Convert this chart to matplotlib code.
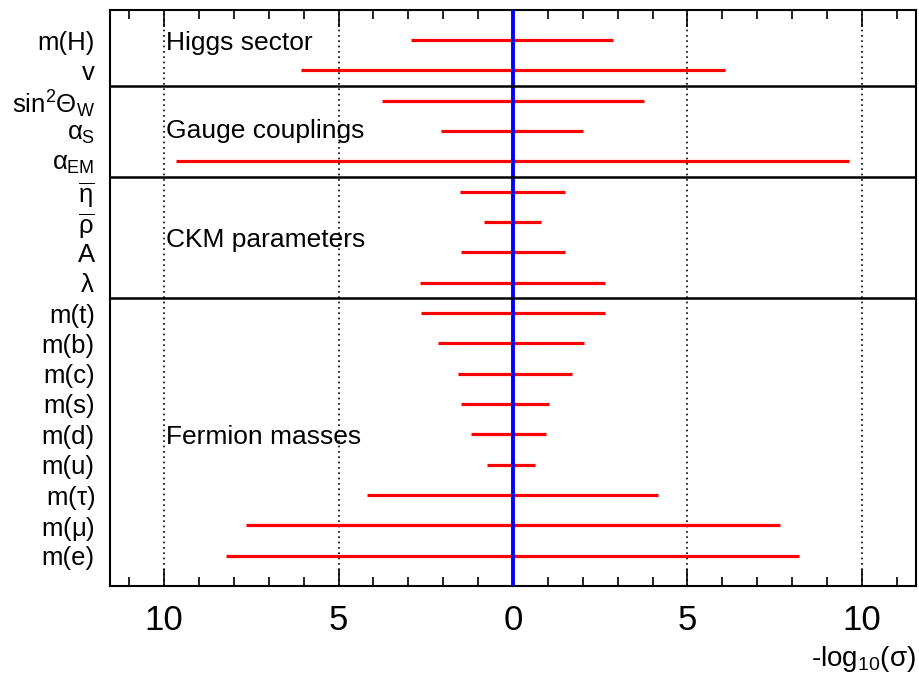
import numpy as np
import matplotlib
matplotlib.use("Agg")
import matplotlib.pyplot as plt
from matplotlib.ticker import MultipleLocator, FixedLocator
from matplotlib import font_manager

plt.rcParams['font.family'] = ['Liberation Sans', 'DejaVu Sans']
plt.rcParams['mathtext.fontset'] = 'custom'
plt.rcParams['mathtext.rm'] = 'Liberation Sans'
plt.rcParams['mathtext.it'] = 'Liberation Sans'
plt.rcParams['mathtext.bf'] = 'Liberation Sans:bold'

names = {f.name for f in font_manager.fontManager.ttflist}
narrow = 'Liberation Sans Narrow' if 'Liberation Sans Narrow' in names else None

# parameters, top to bottom
labels = ['m(H)', 'v', r'sin$^2\Theta_W$', r'$\alpha_S$', r'$\alpha_{EM}$',
          r'$\overline{\eta}$', r'$\overline{\rho}$', 'A', r'$\lambda$',
          'm(t)', 'm(b)', 'm(c)', 'm(s)', 'm(d)', 'm(u)',
          r'm($\tau$)', r'm($\mu$)', 'm(e)']
# -log10(sigma), left and right extent of each bar
left_ext = [2.91, 6.09, 3.76, 2.05, 9.65,
            1.51, 0.84, 1.50, 2.66,
            2.65, 2.15, 1.57, 1.49, 1.19, 0.75,
            4.18, 7.65, 8.22]
right_ext = [2.88, 6.08, 3.75, 2.02, 9.62,
             1.50, 0.81, 1.48, 2.64,
             2.63, 2.03, 1.70, 1.02, 0.96, 0.63,
             4.16, 7.64, 8.21]
groups = ['Higgs sector', 'Gauge couplings', 'CKM parameters', 'Fermion masses']
group_sizes = [2, 3, 4, 9]

fig = plt.figure(figsize=(9.19, 6.91), dpi=100)
ax = fig.add_axes([0.1197, 0.152, 0.8770, 0.8335])

y = np.arange(1, len(labels) + 1)
ax.hlines(y, -np.array(left_ext), np.array(right_ext), color='red', lw=2.3, zorder=3)
ax.axvline(0, color='blue', lw=2.8, zorder=4)
for xv in [-10, -5, 5, 10]:
    ax.axvline(xv, color='black', lw=1.2, ls=(0, (1, 2.2)), zorder=1)

# group separators and names
bounds = np.cumsum(group_sizes)
for b in bounds[:-1]:
    ax.axhline(b + 0.5, color='black', lw=1.8, zorder=5)
text_rows = [1.1, 4.0, 7.6, 14.1]
for g, ty in zip(groups, text_rows):
    ax.text(-9.95, ty, g, fontsize=19, va='center', ha='left')

ax.set_xlim(-11.55, 11.55)
ax.set_ylim(19.0, 0.01)
ax.set_yticks(y)
ax.set_yticklabels(labels, fontsize=18.5)
ax.tick_params(axis='y', length=0, pad=11)

ax.xaxis.set_major_locator(FixedLocator([-10, -5, 0, 5, 10]))
if narrow:
    ax.set_xticklabels(['10', '5', '0', '5', '10'], fontsize=32, family=narrow)
else:
    ax.set_xticklabels(['10', '5', '0', '5', '10'], fontsize=25)
ax.xaxis.set_minor_locator(MultipleLocator(1))
ax.tick_params(axis='x', which='both', direction='in', top=True, bottom=True, width=1.2)
ax.tick_params(axis='x', which='major', length=12, pad=13)
ax.tick_params(axis='x', which='minor', length=6.5)
for s in ax.spines.values():
    s.set_linewidth(1.5)

xl = fig.text(0.997, 0.047, r'-log$_{10}$($\sigma$)', fontsize=25 if narrow else 20,
              ha='right', va='center')
if narrow:
    xl.set_family(narrow)

fig.savefig('out.png', dpi=100)
